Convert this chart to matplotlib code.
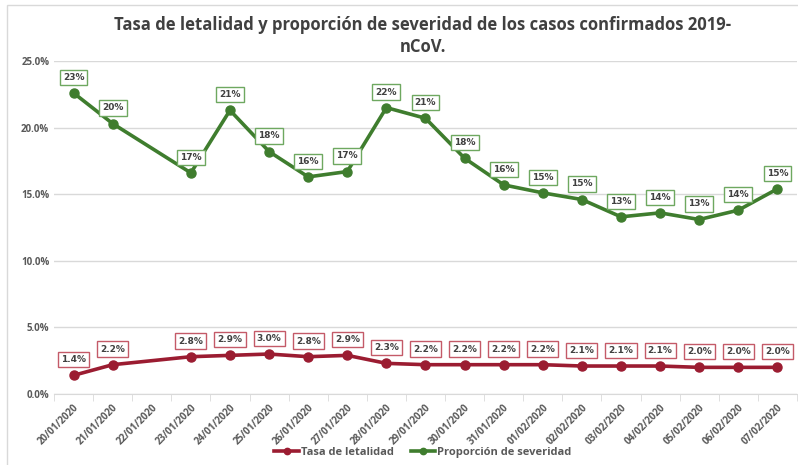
import numpy as np
import matplotlib.pyplot as plt
from matplotlib.patches import Rectangle
from matplotlib.ticker import FuncFormatter

fechas = ['20/01/2020', '21/01/2020', '22/01/2020', '23/01/2020', '24/01/2020',
          '25/01/2020', '26/01/2020', '27/01/2020', '28/01/2020', '29/01/2020',
          '30/01/2020', '31/01/2020', '01/02/2020', '02/02/2020', '03/02/2020',
          '04/02/2020', '05/02/2020', '06/02/2020', '07/02/2020']
letalidad = [1.4, 2.2, np.nan, 2.8, 2.9, 3.0, 2.8, 2.9, 2.3, 2.2,
             2.2, 2.2, 2.2, 2.1, 2.1, 2.1, 2.0, 2.0, 2.0]
severidad = [22.6, 20.3, np.nan, 16.6, 21.3, 18.2, 16.3, 16.7, 21.5, 20.7,
             17.7, 15.7, 15.1, 14.6, 13.3, 13.6, 13.1, 13.8, 15.4]

rojo = '#9b1c31'
verde = '#3f7d2e'
gris = '#595959'

plt.rcParams['font.family'] = ['Open Sans', 'DejaVu Sans']

fig = plt.figure(figsize=(7.98, 4.65), dpi=100)
ax = fig.add_axes([0.0677, 0.1527, 0.931, 0.7161])

x = np.arange(len(fechas))
for serie, color, nombre in [(letalidad, rojo, 'Tasa de letalidad'),
                             (severidad, verde, 'Proporción de severidad')]:
    serie = np.array(serie)
    ok = ~np.isnan(serie)
    ax.plot(x[ok], serie[ok], color=color, lw=2.6, marker='o', ms=6.5,
            label=nombre, zorder=3)

# etiquetas de datos
for xi, v in zip(x, letalidad):
    if np.isnan(v):
        continue
    ax.annotate(f'{v:.1f}%', (xi, v), xytext=(0, 8), textcoords='offset points',
                ha='center', va='bottom', fontsize=6.5, fontweight='bold', color='#404040',
                family='DejaVu Sans',
                bbox=dict(boxstyle='square,pad=0.35', fc='white', ec='#c45a68', lw=1))
for xi, v in zip(x, severidad):
    if np.isnan(v):
        continue
    ax.annotate(f'{v:.0f}%', (xi, v), xytext=(0, 8), textcoords='offset points',
                ha='center', va='bottom', fontsize=6.5, fontweight='bold', color='#404040',
                family='DejaVu Sans',
                bbox=dict(boxstyle='square,pad=0.35', fc='white', ec='#6ea860', lw=1))

ax.set_xlim(-0.5, len(fechas) - 0.5)
ax.set_ylim(0, 25)
ax.set_yticks([0, 5, 10, 15, 20, 25])
ax.yaxis.set_major_formatter(FuncFormatter(lambda v, p: f'{v:.1f}%'))
ax.grid(axis='y', color='#d9d9d9', lw=1)
ax.set_axisbelow(True)

ax.set_xticks(x)
ax.set_xticklabels(fechas, rotation=45, ha='right', rotation_mode='anchor',
                   fontsize=7, fontweight='bold', color=gris)
ax.set_xticks(np.arange(-0.5, len(fechas)), minor=True)
ax.tick_params(axis='x', which='major', length=0, pad=6)
ax.tick_params(axis='x', which='minor', length=5, color='#d9d9d9')
ax.tick_params(axis='y', length=0, labelsize=7, labelcolor=gris)
for t in ax.get_yticklabels():
    t.set_fontweight('bold')

for s in ['top', 'right', 'left']:
    ax.spines[s].set_visible(False)
ax.spines['bottom'].set_color('#d9d9d9')

fig.suptitle('Tasa de letalidad y proporción de severidad de los casos confirmados 2019-\nnCoV.',
             x=0.53, y=0.965, fontsize=12, fontweight='bold', color='#404040',
             linespacing=1.3)

fig.legend(loc='center', bbox_to_anchor=(0.53, 0.027), ncol=2, frameon=False,
           fontsize=8, handlelength=2.2, handletextpad=0.2, columnspacing=1.5,
           markerscale=0.7)
for t in fig.legends[0].get_texts():
    t.set_color(gris)
    t.set_fontweight('bold')

fig.patches.append(Rectangle((0.009, -0.1), 1.2, 1.089, transform=fig.transFigure,
                             fill=False, ec='#d9d9d9', lw=1))

fig.savefig('out.png', dpi=100)
